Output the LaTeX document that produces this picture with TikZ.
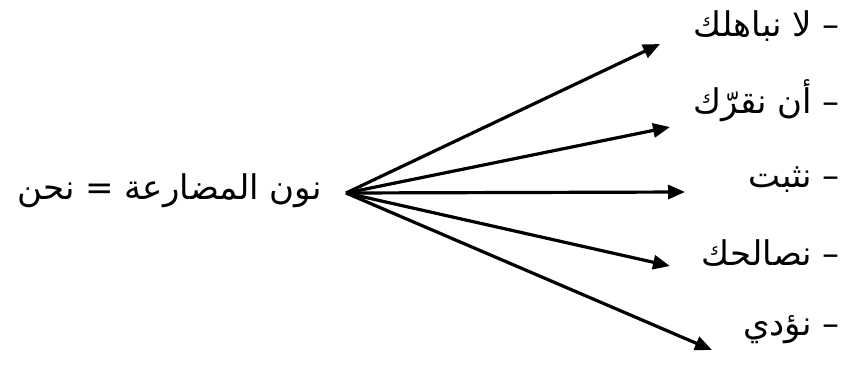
\documentclass[tikz,border=0pt]{standalone}
\usepackage{fontspec}
\newfontfamily\arabicfont[Script=Arabic]{DejaVu Sans}
\TeXXeTstate=1
\usetikzlibrary{arrows.meta}
\tikzset{
  lbl/.style={inner sep=0pt, font=\arabicfont\fontsize{34}{40}\selectfont},
  arr/.style={line width=3.2pt, -{Triangle[length=17pt,width=14pt]}}
}
\begin{document}
\begin{tikzpicture}[x=1pt,y=1pt]
\useasboundingbox (0,0) rectangle (842,-365);
\node[lbl, anchor=east] (src) at (322,-191) {\beginR نون المضارعة = نحن\endR};
\node[lbl, anchor=east] (l1) at (840,-26) {\beginR – لا نباهلك\endR};
\node[lbl, anchor=east] (l2) at (840,-101) {\beginR – أن نقرّك\endR};
\node[lbl, anchor=east] (l3) at (840,-180) {\beginR – نثبت\endR};
\node[lbl, anchor=east] (l4) at (840,-253) {\beginR – نصالحك\endR};
\node[lbl, anchor=east] (l5) at (840,-330) {\beginR – نؤدي\endR};
\coordinate (hub) at (346,-193);
\coordinate (t1) at (660,-44);
\coordinate (t2) at (670,-127);
\coordinate (t3) at (685,-192);
\coordinate (t4) at (670,-266);
\coordinate (t5) at (712,-350);
\draw[arr] (hub) -- (t1);
\draw[arr] (hub) -- (t2);
\draw[arr] (hub) -- (t3);
\draw[arr] (hub) -- (t4);
\draw[arr] (hub) -- (t5);
\end{tikzpicture}
\end{document}
